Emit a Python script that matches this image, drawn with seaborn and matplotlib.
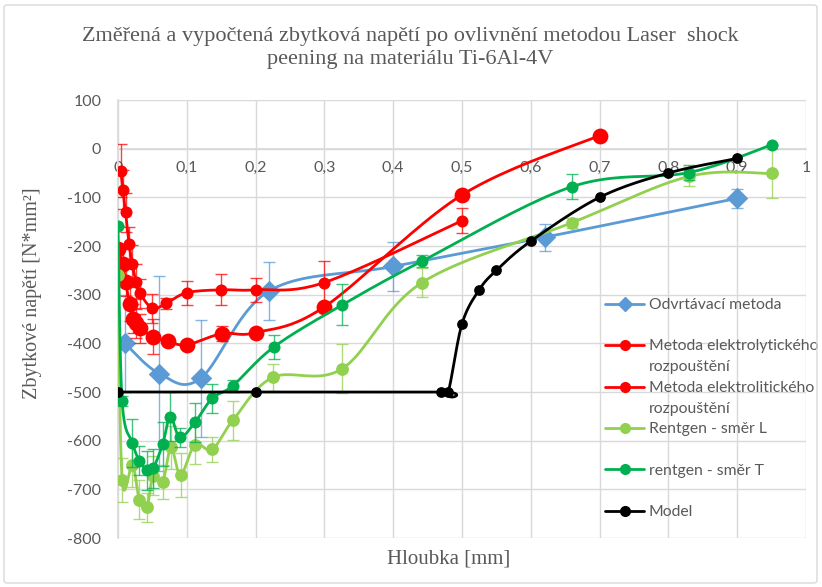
import numpy as np
import matplotlib
matplotlib.use("Agg")
import matplotlib.pyplot as plt
import seaborn as sns
from matplotlib.lines import Line2D
from matplotlib.patches import FancyBboxPatch
from matplotlib.ticker import FuncFormatter

# ---------------- data ----------------
odv_x = [0.01, 0.06, 0.12, 0.22, 0.40, 0.62, 0.90]
odv_y = [-400, -462, -472, -292, -242, -182, -102]
odv_e = [100, 200, 120, 60, 50, 28, 20]

ely_x = [0.0, 0.007, 0.011, 0.017, 0.022, 0.026, 0.032, 0.051, 0.073, 0.10, 0.151, 0.20, 0.30, 0.50, 0.70]
ely_y = [-207, -236, -273, -320, -349, -359, -369, -386, -396, -403, -380, -378, -325, -95, 27]
ely_e = [0, 30, 30, 35, 30, 30, 30, 35, 0, 0, 15, 0, 0, 0, 0]

eli_x = [0.004, 0.007, 0.011, 0.016, 0.021, 0.026, 0.032, 0.05, 0.07, 0.10, 0.15, 0.20, 0.30, 0.50]
eli_y = [-45, -84, -131, -195, -238, -273, -297, -328, -318, -296, -290, -290, -275, -148]
eli_e = [55, 40, 40, 35, 40, 35, 30, 30, 12, 25, 32, 25, 45, 26]

rl_x = [0.0, 0.006, 0.021, 0.031, 0.042, 0.051, 0.065, 0.077, 0.091, 0.112, 0.137, 0.167, 0.225, 0.326, 0.442, 0.66, 0.83, 0.95]
rl_y = [-259, -680, -650, -721, -737, -672, -684, -614, -670, -608, -618, -558, -470, -452, -275, -152, -57, -51]
rl_e = [0, 45, 45, 40, 30, 40, 35, 45, 45, 40, 25, 40, 28, 50, 30, 10, 20, 50]

rt_x = [0.0, 0.006, 0.021, 0.031, 0.042, 0.051, 0.065, 0.076, 0.09, 0.112, 0.137, 0.167, 0.227, 0.326, 0.442, 0.66, 0.83, 0.95]
rt_y = [-158, -519, -605, -641, -661, -657, -607, -551, -593, -562, -513, -487, -407, -321, -231, -78, -49, 8]
rt_e = [0, 10, 50, 30, 40, 40, 45, 50, 20, 40, 30, 12, 25, 42, 12, 25, 15, 0]

mod_x = [0.0, 0.20, 0.47, 0.48, 0.50, 0.525, 0.55, 0.60, 0.70, 0.80, 0.90]
mod_y = [-500, -500, -500, -500, -360, -290, -250, -190, -100, -50, -20]

labels = ["Odvrtávací metoda",
          "Metoda elektrolytického\nrozpouštění",
          "Metoda elektrolitického\nrozpouštění",
          "Rentgen - směr L",
          "rentgen - směr T",
          "Model"]
colors = ["#5B9BD5", "#FF0000", "#FF0000", "#92D050", "#00B050", "#000000"]

x_ticks = [0, 0.1, 0.2, 0.3, 0.4, 0.5, 0.6, 0.7, 0.8, 0.9, 1.0]
y_ticks = [100, 0, -100, -200, -300, -400, -500, -600, -700, -800]

title = "Změřená a vypočtená zbytková napětí po ovlivnění metodou Laser  shock\npeening na materiálu Ti-6Al-4V"
xlabel = "Hloubka [mm]"
ylabel = "Zbytkové napětí [N*mm²]"


def smooth(x, y, n=24):
    x = np.asarray(x, float)
    y = np.asarray(y, float)
    m = len(x)
    P = np.column_stack([x, y])
    out = [P[0]]
    t = np.linspace(0, 1, n)[1:][:, None]
    for i in range(m - 1):
        p0 = P[i - 1] if i > 0 else P[i]
        p1 = P[i]
        p2 = P[i + 1]
        p3 = P[i + 2] if i + 2 < m else P[i + 1]
        c1 = p1 + (p2 - p0) / 6.0
        c2 = p2 - (p3 - p1) / 6.0
        seg = ((1 - t) ** 3) * p1 + 3 * ((1 - t) ** 2) * t * c1 + 3 * (1 - t) * t ** 2 * c2 + t ** 3 * p2
        out.extend(seg)
    out = np.array(out)
    return out[:, 0], out[:, 1]


sns.set_theme(style="white")
plt.rcParams["font.family"] = ["Lato", "DejaVu Sans"]
plt.rcParams["axes.unicode_minus"] = False

fig = plt.figure(figsize=(8.22, 5.87), dpi=100)
W, H = 822, 587
ax = fig.add_axes([118 / W, 1 - 538 / H, 688 / W, 438 / H])
ax.set_facecolor("none")

# chart border
fig.patches.append(FancyBboxPatch((4 / W, 4 / H), 813 / W, 578 / H,
                                  boxstyle="round,pad=0,rounding_size=0.004",
                                  transform=fig.transFigure, fill=False,
                                  edgecolor="#D9D9D9", linewidth=1.0))

series = [
    (odv_x, odv_y, odv_e, "D", 120, colors[0]),
    (ely_x, ely_y, ely_e, "o", 130, colors[1]),
    (eli_x, eli_y, eli_e, "o", 75, colors[2]),
    (rl_x, rl_y, rl_e, "o", 85, colors[3]),
    (rt_x, rt_y, rt_e, "o", 75, colors[4]),
    (mod_x, mod_y, None, "o", 60, colors[5]),
]

for k, (x, y, e, mk, s, c) in enumerate(series):
    z = 3 + k
    if e is not None:
        ax.errorbar(x, y, yerr=e, fmt="none", ecolor=c, elinewidth=1.0,
                    capsize=4, capthick=1.0, alpha=0.75, zorder=z)
    sx, sy = smooth(x, y)
    sns.lineplot(x=sx, y=sy, sort=False, estimator=None, color=c, lw=2.0,
                 ax=ax, zorder=z)
    sns.scatterplot(x=x, y=y, marker=mk, s=s, color=c, edgecolor=c,
                    linewidth=0, ax=ax, zorder=z + 0.5)

ax.set_xlim(0, 1)
ax.set_ylim(-800, 100)
ax.set_xticks(x_ticks)
ax.set_yticks(y_ticks)
ax.xaxis.set_major_formatter(FuncFormatter(lambda v, p: ("%g" % round(v, 1)).replace(".", ",")))
ax.yaxis.set_major_formatter(FuncFormatter(lambda v, p: "%d" % v))
ax.grid(True, color="#D9D9D9", linewidth=1.0)
ax.set_axisbelow(True)
for sp in ["top", "right"]:
    ax.spines[sp].set_visible(False)
ax.spines["bottom"].set_position(("data", 0))
ax.spines["bottom"].set_color("#D9D9D9")
ax.spines["left"].set_color("#D9D9D9")
ax.tick_params(axis="both", length=0, labelsize=11.5, labelcolor="#595959")
ax.tick_params(axis="x", pad=9)
ax.tick_params(axis="y", pad=12)

serif = ["Liberation Serif", "DejaVu Serif"]
ax.set_xlabel(xlabel, fontsize=15, color="#595959", family=serif)
ax.xaxis.set_label_coords((449 - 118) / 688, (538 - 559) / 438)
ax.xaxis.label.set_va("center")
ax.set_ylabel(ylabel, fontsize=14.5, color="#595959", family=serif)
ax.yaxis.set_label_coords((33 - 118) / 688, (538 - 293) / 438)
ax.yaxis.label.set_va("center")

fig.text(410 / W, 1 - 48 / H, title, ha="center", va="center", fontsize=16,
         color="#595959", family=serif, linespacing=1.3)

# legend: 11 rows, blank rows for equal spacing
def h(c, mk):
    return Line2D([0], [0], color=c, lw=2.0, marker=mk, markersize=7,
                  markerfacecolor=c, markeredgecolor=c)
blank = Line2D([], [], alpha=0)
mk = ["D", "o", "o", "o", "o", "o"]
handles = [h(colors[0], mk[0]), blank,
           h(colors[1], mk[1]), blank,
           h(colors[2], mk[2]), blank,
           h(colors[3], mk[3]), blank,
           h(colors[4], mk[4]), blank,
           h(colors[5], mk[5])]
leg_labels = [labels[0], " ",
              labels[1].split("\n")[0], labels[1].split("\n")[1],
              labels[2].split("\n")[0], labels[2].split("\n")[1],
              labels[3], " ", labels[4], " ", labels[5]]
leg = ax.legend(handles, leg_labels, loc="upper left",
                bbox_to_anchor=(605 / W, 1 - 298 / H), bbox_transform=fig.transFigure,
                frameon=False, fontsize=11.3, labelcolor="#595959",
                handlelength=2.5, handletextpad=0.3, labelspacing=0.43,
                borderpad=0, borderaxespad=0)

fig.savefig("out.png", dpi=100)
